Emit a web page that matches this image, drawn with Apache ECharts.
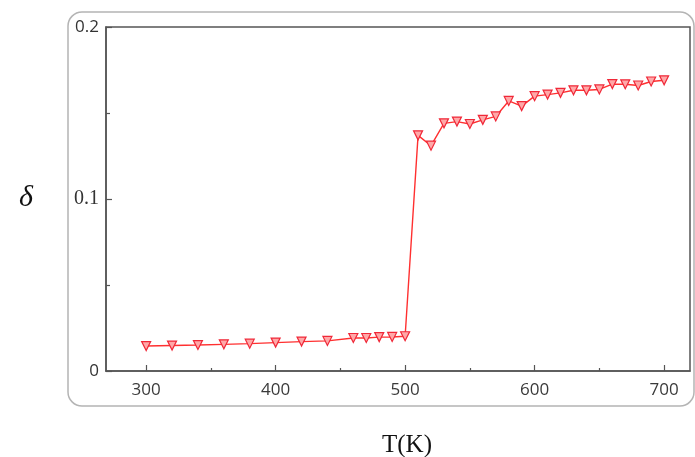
<!DOCTYPE html>
<html>
<head>
<meta charset="utf-8">
<script src="https://cdn.jsdelivr.net/npm/echarts@6/dist/echarts.min.js"></script>
<style>
html,body{margin:0;padding:0;background:#fff;}
#chart{width:695px;height:457px;}
</style>
</head>
<body>
<div id="chart"></div>
<script>
// Data
const temperatures = [300,320,340,360,380,400,420,440,460,470,480,490,500,510,520,530,540,550,560,570,580,590,600,610,620,630,640,650,660,670,680,690,700];
const deltaValues = [0.0145,0.0148,0.0151,0.0155,0.0159,0.0165,0.0171,0.0175,0.0192,0.0192,0.0197,0.0198,0.0202,0.137,0.131,0.144,0.145,0.1436,0.146,0.148,0.157,0.154,0.1598,0.1607,0.1617,0.1632,0.1632,0.1637,0.1668,0.1667,0.166,0.1683,0.169];
const xTickLabels = [300,400,500,600,700];
const xMinorTicks = [350,450,550,650];
const xLabel = 'T(K)';
const yLabel = 'δ';

const chart = echarts.init(document.getElementById('chart'), null, {renderer:'canvas'});
const axisColor = '#555';
const sans = '"Open Sans", "Noto Sans", sans-serif';
const serif = '"Liberation Serif", "DejaVu Serif", serif';

const option = {
  backgroundColor: '#fff',
  animation: false,
  grid: {left: 106, top: 27, width: 584, height: 344, show: true, borderColor: axisColor, borderWidth: 1.5, containLabel: false},
  xAxis: [{
    type: 'value', min: 269, max: 720,
    axisLine: {show: true, lineStyle: {color: axisColor, width: 1.5}},
    axisTick: {show: true, inside: true, length: 6, customValues: xTickLabels, lineStyle: {color: axisColor, width: 1.2}},
    axisLabel: {show: true, customValues: xTickLabels, margin: 11, color: '#3a3a3a', fontSize: 17, fontFamily: sans},
    splitLine: {show: false}
  }, {
    type: 'value', min: 269, max: 720, position: 'bottom',
    axisLine: {show: false},
    axisTick: {show: true, inside: true, length: 3, customValues: xMinorTicks, lineStyle: {color: axisColor, width: 1.2}},
    axisLabel: {show: false},
    splitLine: {show: false}
  }],
  yAxis: {
    type: 'value', min: 0, max: 0.2, interval: 0.1,
    axisLine: {show: true, lineStyle: {color: axisColor, width: 1.5}},
    axisTick: {show: true, inside: true, length: 6, lineStyle: {color: axisColor, width: 1.2}},
    minorTick: {show: true, splitNumber: 2, length: 4, lineStyle: {color: axisColor, width: 1.2}},
    axisLabel: {
      margin: 7, color: '#333', fontSize: 17, fontFamily: sans,
      formatter: function(v){ if (Math.abs(v-0.1) < 1e-9) return '{s|0.1}'; return String(Math.round(v*10)/10); },
      rich: {s: {fontFamily: serif, fontSize: 20, color: '#333'}}
    },
    splitLine: {show: false}
  },
  graphic: [
    {type: 'rect', shape: {x: 68, y: 12, width: 626, height: 394, r: 14}, style: {fill: 'none', stroke: '#b4b4b4', lineWidth: 1.5}, z: 0},
    {type: 'text', x: 407, y: 445, style: {text: xLabel, font: '25px ' + serif, fill: '#111', textAlign: 'center', textVerticalAlign: 'middle'}},
    {type: 'text', x: 26, y: 198, style: {text: yLabel, font: 'italic 30px ' + serif, fill: '#111', textAlign: 'center', textVerticalAlign: 'middle'}}
  ],
  series: [{
    type: 'line',
    xAxisIndex: 0,
    data: temperatures.map((t, i) => [t, deltaValues[i]]),
    symbol: 'triangle', symbolRotate: 180, symbolSize: 9,
    lineStyle: {color: '#ff3030', width: 1.4},
    itemStyle: {color: '#ffa8a8', borderColor: '#f02838', borderWidth: 1.2},
    z: 3
  }]
};
chart.setOption(option);
</script>
</body>
</html>
